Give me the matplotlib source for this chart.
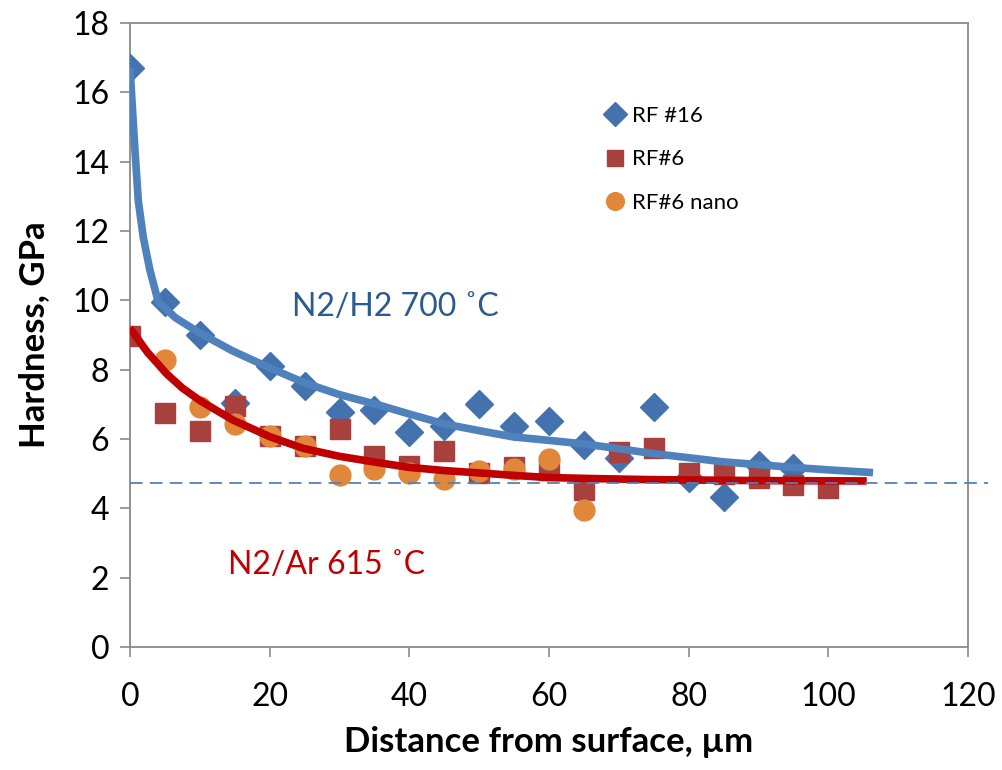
import matplotlib
matplotlib.use("Agg")
import matplotlib.pyplot as plt

plt.rcParams['font.family'] = ['Lato', 'DejaVu Sans']

# Measured data
x_rf16 = [0, 5, 10, 15, 20, 25, 30, 35, 40, 45, 50, 55, 60, 65, 70, 75, 80, 85, 90, 95]
y_rf16 = [16.7, 9.95, 9.0, 7.03, 8.12, 7.52, 6.77, 6.83, 6.19, 6.37, 7.0, 6.37, 6.51, 5.82, 5.44, 6.91, 4.87, 4.32, 5.24, 5.16]

x_rf6 = [0, 5, 10, 15, 20, 25, 30, 35, 40, 45, 50, 55, 60, 65, 70, 75, 80, 85, 90, 95, 100]
y_rf6 = [8.96, 6.74, 6.22, 6.94, 6.08, 5.79, 6.28, 5.5, 5.21, 5.65, 5.01, 5.18, 5.1, 4.52, 5.62, 5.73, 5.01, 4.98, 4.87, 4.67, 4.58]

x_nano = [5, 10, 15, 20, 25, 30, 35, 40, 45, 50, 55, 60, 65]
y_nano = [8.27, 6.91, 6.42, 6.08, 5.79, 4.95, 5.13, 5.01, 4.84, 5.07, 5.13, 5.41, 3.95]

# Trend curves
x_fit16 = [0, 0.3, 0.72, 1.19, 1.9, 2.86, 4.06, 6.5, 9.8, 14.6, 19.8, 25, 30, 35.8, 40, 44.9, 50, 54.9, 60, 64.9, 70, 74.9, 80, 85, 90, 95, 100, 106.4]
y_fit16 = [16.7, 15.7, 14.3, 12.87, 11.82, 10.86, 9.95, 9.5, 9.08, 8.55, 8.07, 7.62, 7.28, 6.97, 6.72, 6.44, 6.24, 6.06, 5.96, 5.86, 5.72, 5.58, 5.46, 5.34, 5.26, 5.18, 5.11, 5.03]

x_fit6 = [0, 2.5, 5.25, 7.5, 10, 14.8, 20.1, 24.8, 30, 35.8, 40, 45, 50.1, 55, 59.7, 66, 74, 90, 105.5]
y_fit6 = [9.2, 8.5, 7.88, 7.47, 7.11, 6.54, 6.06, 5.73, 5.5, 5.31, 5.18, 5.09, 5.02, 4.95, 4.89, 4.86, 4.83, 4.8, 4.79]

baseline_x = [0, 122.9]
baseline_y = [4.72, 4.72]

x_ticks = [0, 20, 40, 60, 80, 100, 120]
y_ticks = [0, 2, 4, 6, 8, 10, 12, 14, 16, 18]

fig = plt.figure(figsize=(10.02, 7.70), dpi=100)
ax = fig.add_axes([130/1002, (770-647)/770, 838/1002, 624/770])

c_dia = '#4372AE'
c_sq = '#A8403E'
c_circ = '#E0873A'
c_blue_line = '#4F81BD'
c_red_line = '#C00000'

ax.plot(x_rf16, y_rf16, linestyle='none', marker='D', ms=14, color=c_dia, mec=c_dia, zorder=3, label='RF #16')
ax.plot(x_rf6, y_rf6, linestyle='none', marker='s', ms=14, color=c_sq, mec=c_sq, zorder=4, label='RF#6')
ax.plot(x_nano, y_nano, linestyle='none', marker='o', ms=15, color=c_circ, mec=c_circ, zorder=5, label='RF#6 nano')

ax.plot(x_fit16, y_fit16, color=c_blue_line, lw=5.5, zorder=6, solid_capstyle='butt', solid_joinstyle='round')
ax.plot(x_fit6, y_fit6, color=c_red_line, lw=5.5, zorder=7, solid_capstyle='butt', solid_joinstyle='round')
ax.plot(baseline_x, baseline_y, color=c_blue_line, lw=1.3, ls=(0, (7, 4)), zorder=8, clip_on=False)

ax.set_xlim(0, 120)
ax.set_ylim(0, 18)
ax.set_xticks(x_ticks)
ax.set_yticks(y_ticks)
ax.tick_params(axis='both', direction='out', length=7, width=1.2, color='#898989', labelsize=23, labelcolor='black')
ax.tick_params(axis='x', pad=18)
ax.tick_params(axis='y', pad=8)
for s in ax.spines.values():
    s.set_color('#898989')
    s.set_linewidth(1.3)

ax.set_xlabel('Distance from surface, µm', fontsize=25, fontweight='bold', labelpad=10)
ax.set_ylabel('Hardness, GPa', fontsize=25, fontweight='bold', labelpad=16)

ax.text((292-130)/6.983, (647-306)/34.72, 'N2/H2 700 \u02daC', fontsize=23, color='#2A5A8E', va='center', ha='left')
ax.text((228-130)/6.983, (647-565)/34.72, 'N2/Ar 615 \u02daC', fontsize=23, color='#C00000', va='center', ha='left')

leg = ax.legend(loc='upper left', bbox_to_anchor=((582-130)/838, (647-86)/624), frameon=False,
                fontsize=16, handletextpad=0.15, labelspacing=1.05, handlelength=1.2, markerscale=0.85)

fig.savefig('out.png', dpi=100)
